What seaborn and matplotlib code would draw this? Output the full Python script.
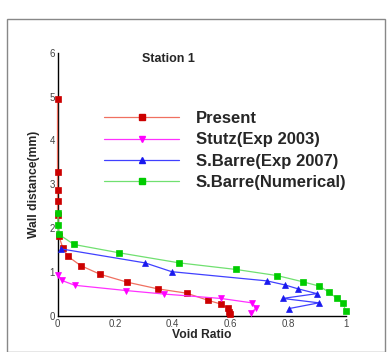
import matplotlib
matplotlib.use("Agg")
import matplotlib.pyplot as plt
import seaborn as sns
import numpy as np
from matplotlib.lines import Line2D
from matplotlib.patches import Rectangle
from matplotlib.ticker import MultipleLocator

sns.set_theme(style="white")
plt.rcParams['font.family'] = ['Liberation Sans', 'DejaVu Sans']

present_x = [0.0, 0.0, 0.0, 0.0, 0.0, 0.005, 0.018, 0.036, 0.08, 0.148, 0.242, 0.347, 0.448, 0.521, 0.568, 0.59, 0.595, 0.6]
present_y = [4.94, 3.29, 2.88, 2.62, 2.30, 1.82, 1.56, 1.36, 1.15, 0.95, 0.77, 0.62, 0.52, 0.36, 0.27, 0.18, 0.10, 0.04]

stutz_x = [0.003, 0.015, 0.06, 0.238, 0.37, 0.567, 0.674, 0.69, 0.672]
stutz_y = [0.93, 0.81, 0.70, 0.58, 0.50, 0.40, 0.30, 0.19, 0.07]

barre_exp_x = [0.012, 0.304, 0.396, 0.727, 0.788, 0.834, 0.9, 0.781, 0.907, 0.804]
barre_exp_y = [1.53, 1.21, 1.01, 0.80, 0.71, 0.62, 0.51, 0.40, 0.30, 0.17]

barre_num_x = [0.003, 0.0, 0.005, 0.057, 0.214, 0.423, 0.62, 0.763, 0.851, 0.909, 0.942, 0.97, 0.99, 1.0]
barre_num_y = [2.34, 2.07, 1.86, 1.63, 1.44, 1.21, 1.06, 0.92, 0.78, 0.68, 0.54, 0.40, 0.30, 0.12]

labels = ["Present", "Stutz(Exp 2003)", "S.Barre(Exp 2007)", "S.Barre(Numerical)"]
x_ticks = [0, 0.2, 0.4, 0.6, 0.8, 1]
x_ticklabels = ["0", "0.2", "0.4", "0.6", "0.8", "1"]
y_ticks = [0, 1, 2, 3, 4, 5, 6]

series = [
    (present_x, present_y, 's', '#f07060', '#cc0000'),
    (stutz_x, stutz_y, 'v', '#ff30ff', '#ff00ff'),
    (barre_exp_x, barre_exp_y, '^', '#4040ff', '#1a1aee'),
    (barre_num_x, barre_num_y, 's', '#70e070', '#00cc00'),
]

fig = plt.figure(figsize=(3.87, 3.52), dpi=100)
ax = fig.add_axes([57.5/387, 36/352, (345.7-57.5)/387, (316-52.7)/352])

for (xs, ys, mk, lc, mc) in series:
    sns.lineplot(x=xs, y=ys, sort=False, estimator=None, ax=ax, color=lc,
                 linewidth=0.9, marker=mk, markersize=4.6,
                 markerfacecolor=mc, markeredgecolor=mc, markeredgewidth=0.5,
                 clip_on=False, zorder=3)

ax.set_xlim(0, 1)
ax.set_ylim(0, 6)
ax.set_xticks(x_ticks)
ax.set_xticklabels(x_ticklabels)
ax.set_yticks(y_ticks)
ax.xaxis.set_minor_locator(MultipleLocator(0.05))
ax.yaxis.set_minor_locator(MultipleLocator(0.2))
ax.tick_params(axis='both', which='major', direction='in', length=4, width=1,
               colors='black', labelcolor='#444444', labelsize=7, pad=2)
ax.tick_params(axis='both', which='minor', direction='in', length=2, width=0.6, colors='black')
for side in ['top', 'right']:
    ax.spines[side].set_visible(False)
for side in ['left', 'bottom']:
    ax.spines[side].set_color('black')
    ax.spines[side].set_linewidth(1.0)

ax.set_xlabel("Void Ratio", fontsize=8.7, fontweight='bold', labelpad=0)
ax.set_ylabel("Wall distance(mm)", fontsize=8.7, fontweight='bold', labelpad=7)
ax.text(0.385, 5.85, "Station 1", fontsize=9, fontweight='bold', ha='center', va='center')

handles = []
for (xs, ys, mk, lc, mc) in series:
    handles.append(Line2D([0], [0], color=lc, linewidth=0.9, marker=mk, markersize=4,
                          markerfacecolor=mc, markeredgecolor=mc))
leg = ax.legend(handles, labels, loc='upper left', bbox_to_anchor=(104/387, 1 - 111/352),
                bbox_transform=fig.transFigure, frameon=False, fontsize=12,
                handlelength=4.5, handletextpad=1.0, labelspacing=0.38, borderaxespad=0,
                borderpad=0)
for t in leg.get_texts():
    t.set_fontweight('bold')

fig.patches.append(Rectangle((7/387, 0.5/352), (385-7)/387, (352-19-0.5)/352,
                             transform=fig.transFigure, fill=False,
                             edgecolor='#888888', linewidth=1.0))

fig.savefig("out.png", dpi=100)
